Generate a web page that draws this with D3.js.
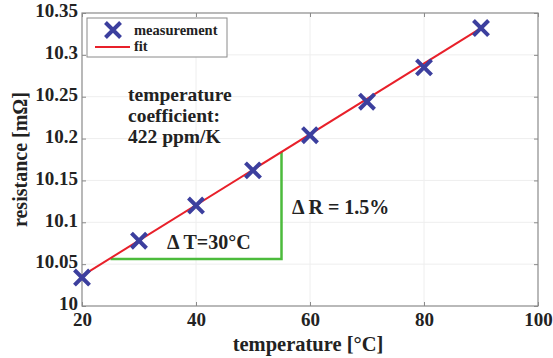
<!DOCTYPE html>
<meta charset="utf-8" />
<script src="https://d3js.org/d3.v7.js"></script>
<style>
  body { margin: 0; background: white; }
  svg text { font-family: "Liberation Serif", "Times New Roman", serif !important; font-weight: bold; }
</style>
<div id="chart"></div>
<script>
  // measured data
  const temperature = [20, 30, 40, 50, 60, 70, 80, 90];
  const resistance = [10.034, 10.078, 10.12, 10.162, 10.204, 10.244, 10.285, 10.332];

  // linear fit endpoints
  const fitT = [20, 90];
  const fitR = [10.036, 10.332];

  // delta triangle (green)
  const deltaT = [25, 55, 55];
  const deltaR = [10.056, 10.056, 10.184];

  const xTicks = [20, 40, 60, 80, 100];
  const yTicks = [10, 10.05, 10.1, 10.15, 10.2, 10.25, 10.3, 10.35];

  const width = 553;
  const height = 358;
  const margin = { left: 82, right: 15, top: 13, bottom: 52 };

  const svg = d3
    .select("#chart")
    .append("svg")
    .attr("width", width)
    .attr("height", height);

  const x = d3.scaleLinear().domain([20, 100]).range([margin.left, width - margin.right]);
  const y = d3.scaleLinear().domain([10, 10.35]).range([height - margin.bottom, margin.top]);

  // grid
  svg.append("g")
    .selectAll("line.gx")
    .data(xTicks.slice(1, -1))
    .enter()
    .append("line")
    .attr("x1", d => x(d)).attr("x2", d => x(d))
    .attr("y1", y(10)).attr("y2", y(10.35))
    .attr("stroke", "#eeeeee");
  svg.append("g")
    .selectAll("line.gy")
    .data(yTicks.slice(1, -1))
    .enter()
    .append("line")
    .attr("x1", x(20)).attr("x2", x(100))
    .attr("y1", d => y(d)).attr("y2", d => y(d))
    .attr("stroke", "#eeeeee");

  // box
  svg.append("rect")
    .attr("x", x(20)).attr("y", y(10.35))
    .attr("width", x(100) - x(20)).attr("height", y(10) - y(10.35))
    .attr("fill", "none").attr("stroke", "#8a8a8a").attr("stroke-width", 1.2);

  // axes
  const xAxis = svg.append("g")
    .attr("transform", `translate(0,${y(10)})`)
    .call(d3.axisBottom(x).tickValues(xTicks).tickSize(-4).tickPadding(6).tickFormat(d3.format("d")));
  const xAxisTop = svg.append("g")
    .attr("transform", `translate(0,${y(10.35)})`)
    .call(d3.axisTop(x).tickValues(xTicks).tickSize(-4).tickFormat(""));
  const yAxis = svg.append("g")
    .attr("transform", `translate(${x(20)},0)`)
    .call(d3.axisLeft(y).tickValues(yTicks).tickSize(-4).tickPadding(4).tickFormat(d => String(+d.toFixed(2))));
  const yAxisRight = svg.append("g")
    .attr("transform", `translate(${x(100)},0)`)
    .call(d3.axisRight(y).tickValues(yTicks).tickSize(-4).tickFormat(""));

  [xAxis, xAxisTop, yAxis, yAxisRight].forEach(a => {
    a.attr("font-family", null);
    a.select(".domain").remove();
    a.selectAll("line").attr("stroke", "#8a8a8a");
    a.selectAll("text").style("font-size", "19px").style("fill", "#222");
  });
  yAxis.selectAll("text").attr("dy", "0.2em");
  xAxis.selectAll("text").attr("dy", "0.75em");

  // axis titles
  svg.append("text")
    .attr("x", 308)
    .attr("y", 351)
    .attr("text-anchor", "middle")
    .style("font-size", "20.5px")
    .style("fill", "#222")
    .text("temperature [°C]");
  svg.append("text")
    .attr("transform", `translate(27,${(y(10) + y(10.35)) / 2}) rotate(-90)`)
    .attr("text-anchor", "middle")
    .style("font-size", "20px")
    .style("fill", "#222")
    .text("resistance [mΩ]");

  // green delta lines
  svg.append("path")
    .attr("d", d3.line().x(d => x(d[0])).y(d => y(d[1]))(deltaT.map((t, i) => [t, deltaR[i]])))
    .attr("fill", "none")
    .attr("stroke", "#4cbb3c")
    .attr("stroke-width", 2.5);

  // fit line
  svg.append("path")
    .attr("d", d3.line().x(d => x(d[0])).y(d => y(d[1]))(fitT.map((t, i) => [t, fitR[i]])))
    .attr("fill", "none")
    .attr("stroke", "#e8202a")
    .attr("stroke-width", 2);

  // markers
  const cross = d3.symbol().type(d3.symbolX).size(150);
  svg.append("g")
    .selectAll("path")
    .data(temperature)
    .enter()
    .append("path")
    .attr("d", cross)
    .attr("transform", (d, i) => `translate(${x(d)},${y(resistance[i])})`)
    .attr("fill", "none")
    .attr("stroke", "#3c3f9e")
    .attr("stroke-width", 4);

  // annotations
  const note = svg.append("text")
    .style("font-size", "19.5px")
    .style("fill", "#222");
  ["temperature", "coefficient:", "422 ppm/K"].forEach((s, i) => {
    note.append("tspan").attr("x", 128).attr("y", 101 + i * 21).text(s);
  });
  svg.append("text")
    .attr("x", 167).attr("y", 249)
    .style("font-size", "20px").style("fill", "#222")
    .text("Δ T=30°C");
  svg.append("text")
    .attr("x", 292).attr("y", 214)
    .style("font-size", "20px").style("fill", "#222")
    .text("Δ R = 1.5%");

  // legend
  const legend = svg.append("g");
  legend.append("rect")
    .attr("x", 87).attr("y", 18).attr("width", 140).attr("height", 39)
    .attr("fill", "white").attr("stroke", "#8a8a8a");
  legend.append("path")
    .attr("d", cross)
    .attr("transform", "translate(113,30)")
    .attr("fill", "none").attr("stroke", "#3c3f9e").attr("stroke-width", 4);
  legend.append("line")
    .attr("x1", 95).attr("x2", 130).attr("y1", 47).attr("y2", 47)
    .attr("stroke", "#e8202a").attr("stroke-width", 2);
  legend.append("text").attr("x", 134).attr("y", 35)
    .style("font-size", "14.5px").style("fill", "#222").text("measurement");
  legend.append("text").attr("x", 134).attr("y", 51)
    .style("font-size", "14.5px").style("fill", "#222").text("fit");
</script>
